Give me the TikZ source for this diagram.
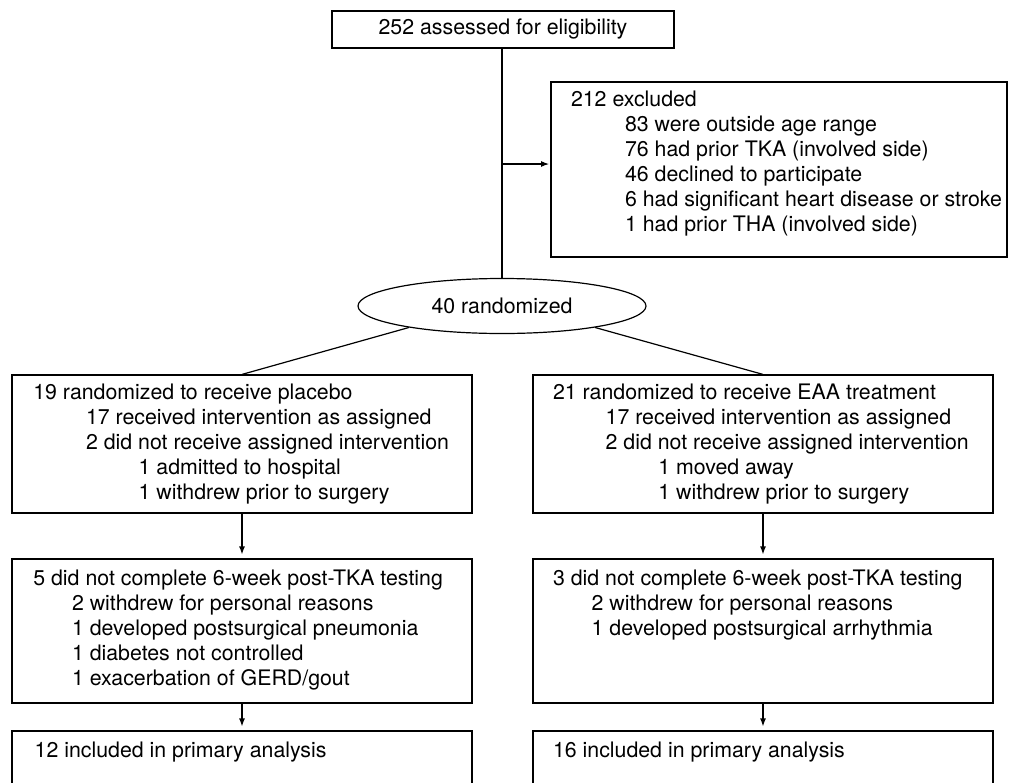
\documentclass[tikz,border=0pt]{standalone}
\usepackage{fontspec}
\setmainfont{TeX Gyre Heros}
\usetikzlibrary{shapes.geometric,positioning,arrows.meta}

\tikzset{every picture/.style={line width=0.9pt}}
\tikzset{
  flowbox/.style={draw, inner sep=0pt, minimum width=345pt},
  flowtext/.style={inner sep=0pt, align=left, font=\fontsize{16}{18.75}\selectfont},
  flowarrow/.style={-{Latex[length=6pt,width=4.5pt]}, shorten >=3pt},
}

\begin{document}
\begin{tikzpicture}[x=0.75pt,y=0.75pt,yscale=-1,xscale=1]
	\useasboundingbox (0,0) rectangle (1009,782);

	%Shape: Rectangle [assessed]
	\node[flowbox, flowtext, minimum width=256.5pt, minimum height=27.75pt] (assessed) at (503,29.5) {252 assessed for eligibility};
	%Shape: Rectangle [excluded]
	\node[flowbox, minimum width=342pt, minimum height=131.25pt] (excluded) at (779,169.5) {};
	%Shape: Ellipse [randomized]
	\node[ellipse, draw, flowtext, minimum width=216pt, minimum height=41.25pt] (randomized) at (502,306) {40 randomized};
	%Shape: Rectangle [placebo arm]
	\node[flowbox, minimum height=103.5pt] (placebo) at (242,444) {};
	\node[flowbox, minimum height=108pt] (placebolost) at (242,631) {};
	\node[flowbox, minimum height=108pt] (placeboanalysed) at (242,803) {};
	%Shape: Rectangle [EAA arm]
	\node[flowbox, minimum height=103.5pt] (eaa) at (763,444) {};
	\node[flowbox, minimum height=108pt] (eaalost) at (763,631) {};
	\node[flowbox, minimum height=108pt] (eaaanalysed) at (763,803) {};

	%Straight Lines
	\coordinate (split) at (502,164);
	\draw (assessed.south -| randomized.north) -- (randomized.north);
	\draw[flowarrow, shorten >=1pt] (split) -- (split -| excluded.west);
	\draw (randomized.193) -- (placebo.north);
	\draw (randomized.-13) -- (eaa.north);
	\draw[flowarrow] (placebo) -- (placebolost);
	\draw[flowarrow] (placebolost) -- (placeboanalysed);
	\draw[flowarrow] (eaa) -- (eaalost);
	\draw[flowarrow] (eaalost) -- (eaaanalysed);

	% Text Node
	\node[flowtext, below right=7pt and 15pt of excluded.north west] (excludedtext) {212 excluded\\
		\hspace*{40.5pt}83 were outside age range\\
		\hspace*{40.5pt}76 had prior TKA (involved side)\\
		\hspace*{40.5pt}46 declined to participate\\
		\hspace*{40.5pt}6 had significant heart disease or stroke\\
		\hspace*{40.5pt}1 had prior THA (involved side)};
	% Text Node
	\node[flowtext, below right=7pt and 16pt of placebo.north west] (placebotext) {19 randomized to receive placebo\\
		\hspace*{39.5pt}17 received intervention as assigned\\
		\hspace*{39.5pt}2 did not receive assigned intervention\\
		\hspace*{79pt}1 admitted to hospital\\
		\hspace*{79pt}1 withdrew prior to surgery};
	% Text Node
	\node[flowtext, below right=7pt and 15pt of eaa.north west] (eaatext) {21 randomized to receive EAA treatment\\
		\hspace*{39.5pt}17 received intervention as assigned\\
		\hspace*{39.5pt}2 did not receive assigned intervention\\
		\hspace*{79pt}1 moved away\\
		\hspace*{79pt}1 withdrew prior to surgery};
	% Text Node
	\node[flowtext, below right=8pt and 16pt of placebolost.north west] (placebolosttext) {5 did not complete 6-week post-TKA testing\\
		\hspace*{29pt}2 withdrew for personal reasons\\
		\hspace*{29pt}1 developed postsurgical pneumonia\\
		\hspace*{29pt}1 diabetes not controlled\\
		\hspace*{29pt}1 exacerbation of GERD/gout};
	% Text Node
	\node[flowtext, below right=8pt and 15pt of eaalost.north west] (eaalosttext) {3 did not complete 6-week post-TKA testing\\
		\hspace*{29pt}2 withdrew for personal reasons\\
		\hspace*{29pt}1 developed postsurgical arrhythmia};
	% Text Node
	\node[flowtext, below right=8pt and 17pt of placeboanalysed.north west] (placeboanalysedtext) {12 included in primary analysis};
	% Text Node
	\node[flowtext, below right=8pt and 15pt of eaaanalysed.north west] (eaaanalysedtext) {16 included in primary analysis};

\end{tikzpicture}
\end{document}
